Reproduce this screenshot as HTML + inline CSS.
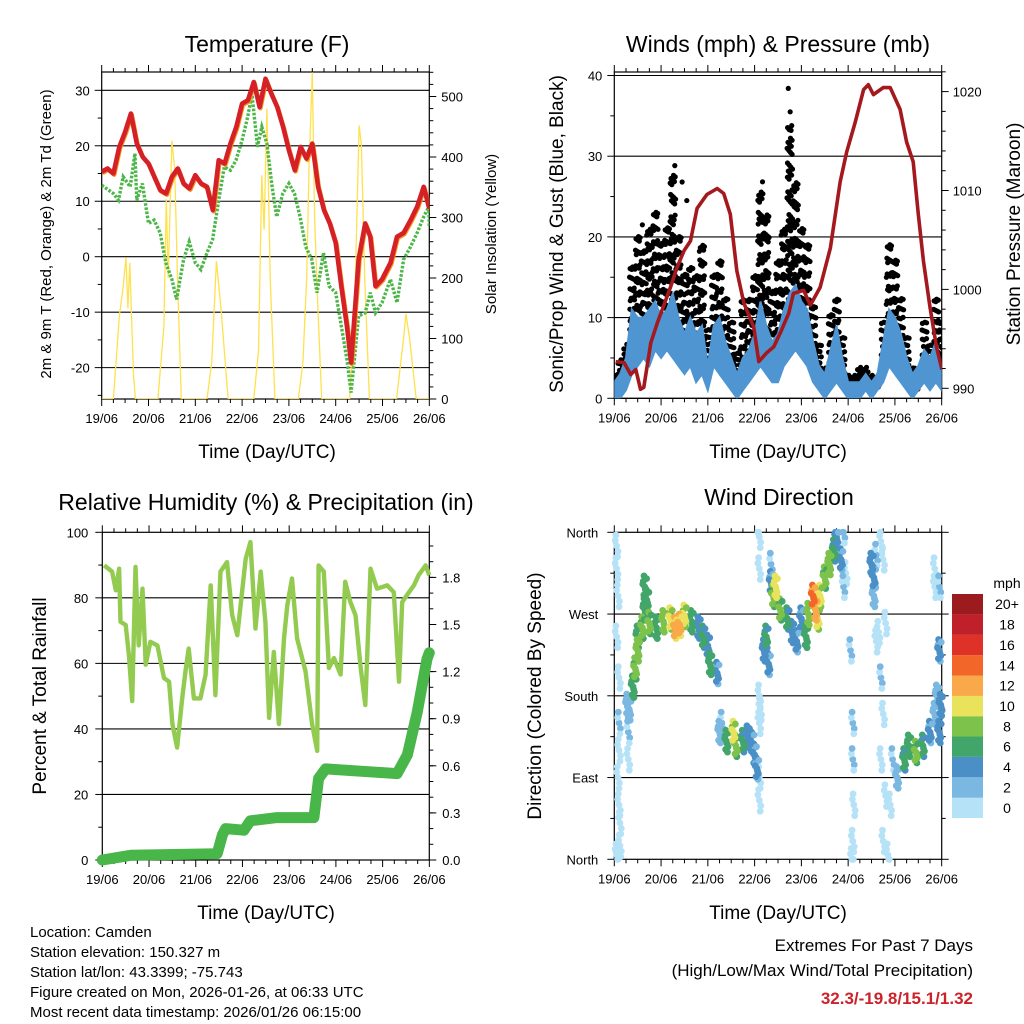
<!DOCTYPE html>
<html><head><meta charset="utf-8"><style>
html,body{margin:0;padding:0;background:#fff}
svg{display:block;font-family:"Liberation Sans",Arial,sans-serif}
</style></head><body>
<svg id="fig" width="1024" height="1024" viewBox="0 0 1024 1024" xmlns="http://www.w3.org/2000/svg">
<g id="texts" fill="#000">
<text x="267" y="52" font-size="23" text-anchor="middle">Temperature (F)</text>
<text x="778" y="52" font-size="23" text-anchor="middle">Winds (mph) &amp; Pressure (mb)</text>
<text x="266" y="510" font-size="23" text-anchor="middle">Relative Humidity (%) &amp; Precipitation (in)</text>
<text x="779" y="505" font-size="23" text-anchor="middle">Wind Direction</text>
<text x="267" y="458" font-size="19" text-anchor="middle">Time (Day/UTC)</text>
<text x="778" y="458" font-size="19" text-anchor="middle">Time (Day/UTC)</text>
<text x="266" y="919" font-size="19" text-anchor="middle">Time (Day/UTC)</text>
<text x="778" y="919" font-size="19" text-anchor="middle">Time (Day/UTC)</text>
<text transform="translate(51,234) rotate(-90)" font-size="15" text-anchor="middle">2m &amp; 9m T (Red, Orange) &amp; 2m Td (Green)</text>
<text transform="translate(496,234) rotate(-90)" font-size="15" text-anchor="middle">Solar Insolation (Yellow)</text>
<text transform="translate(563,234) rotate(-90)" font-size="19" text-anchor="middle">Sonic/Prop Wind &amp; Gust (Blue, Black)</text>
<text transform="translate(1020,234) rotate(-90)" font-size="19" text-anchor="middle">Station Pressure (Maroon)</text>
<text transform="translate(46,696) rotate(-90)" font-size="19" text-anchor="middle">Percent &amp; Total Rainfall</text>
<text transform="translate(541,696) rotate(-90)" font-size="19" text-anchor="middle">Direction (Colored By Speed)</text>
<g font-size="15">
<text x="30" y="937">Location: Camden</text>
<text x="30" y="957">Station elevation: 150.327 m</text>
<text x="30" y="977">Station lat/lon: 43.3399; -75.743</text>
<text x="30" y="997">Figure created on Mon, 2026-01-26, at 06:33 UTC</text>
<text x="30" y="1017">Most recent data timestamp: 2026/01/26 06:15:00</text>
</g>
<g font-size="17" text-anchor="end">
<text x="973" y="951">Extremes For Past 7 Days</text>
<text x="973" y="976">(High/Low/Max Wind/Total Precipitation)</text>
<text x="973" y="1004" fill="#cc2229" font-weight="bold">32.3/-19.8/15.1/1.32</text>
</g>
</g>
</svg>
<script>
// ---------- data ----------
const dayLabels=["19/06","20/06","21/06","22/06","23/06","24/06","25/06","26/06"];
const tempTicks=[30,20,10,0,-10,-20];
const solarTicks=[0,100,200,300,400,500];
const windTicks=[0,10,20,30,40];
const presTicks=[990,1000,1010,1020];
const rhTicks=[0,20,40,60,80,100];
const rainTicks=["0.0","0.3","0.6","0.9","1.2","1.5","1.8"];
const dirTicks=["North","East","South","West","North"];
const speedLabels=["0","2","4","6","8","10","12","14","16","18","20+"];
const speedColors=["#b5e2f7","#7ab8e2","#4a8fc6","#42a56a","#7dc24a","#e8e35a","#f9a84a","#f26629","#de3128","#c0202a","#9b1b1e"];

const tempT=[0,0.125,0.25,0.375,0.5,0.625,0.75,0.875,1,1.125,1.25,1.375,1.5,1.625,1.75,1.875,2,2.125,2.25,2.375,2.5,2.625,2.75,2.875,3,3.125,3.25,3.375,3.5,3.625,3.75,3.875,4,4.125,4.25,4.375,4.5,4.625,4.75,4.875,5,5.12,5.24,5.33,5.49,5.63,5.74,5.85,5.99,6.17,6.31,6.45,6.6,6.74,6.88,6.99,7.0];
const tempV=[15.3,15.9,15.0,19.8,22.5,25.8,20.4,18.0,16.8,14.4,12.0,11.4,14.4,15.9,13.2,12.3,14.7,13.2,12.6,8.4,17.4,16.8,20.4,23.4,27.6,28.2,31.5,27.0,32.1,29.4,27.0,23.4,19.2,15.6,19.8,17.7,20.4,12.6,8.4,6.0,2.5,-5.3,-12.5,-19.1,-0.5,6.0,3.6,-5.3,-4.1,-1.1,3.6,4.3,6.6,9.0,12.6,9.0,9.3];
const dewT=[0,0.25,0.36,0.46,0.61,0.71,0.75,0.87,1,1.12,1.25,1.37,1.5,1.6,1.75,1.87,2,2.12,2.25,2.37,2.5,2.62,2.75,2.87,3,3.12,3.21,3.33,3.42,3.53,3.64,3.74,3.87,4,4.12,4.24,4.36,4.49,4.6,4.74,4.86,5,5.12,5.24,5.33,5.49,5.63,5.74,5.85,5.99,6.17,6.31,6.45,6.6,6.74,6.88,6.99,7.0];
const dewV=[12.9,11.4,10.2,14.4,12.6,18.6,10.2,13.2,6.0,6.6,4.3,-1.1,-4.1,-7.7,-0.5,2.7,-1.1,-2.3,0.7,3.1,10.2,16.2,15.6,17.4,21.0,25.2,29.4,19.8,23.4,20.4,12.6,7.2,11.4,13.2,11.4,7.2,1.8,-0.5,-6.5,0.7,-5.3,-6.5,-12.5,-18.5,-24.5,-10.7,-10.1,-6.5,-10.1,-8.3,-4.1,-8.3,-0.5,1.8,4.3,7.2,9.0,5.4];
const solarT=[0,0.25,0.38,0.45,0.52,0.56,0.6,0.68,0.72,1.2,1.33,1.38,1.42,1.5,1.56,1.62,1.7,2.25,2.35,2.45,2.55,2.7,3.25,3.35,3.42,3.47,3.53,3.6,3.7,4.2,4.3,4.38,4.43,4.5,4.55,4.62,4.7,5.3,5.42,5.5,5.55,5.62,5.72,6.3,6.45,6.5,6.58,6.72,7];
const solarV=[0,0,140,180,234,150,225,40,0,0,120,330,200,427,380,200,0,0,60,228,150,0,0,80,370,280,480,200,0,0,60,200,380,540,300,150,0,0,200,452,420,200,0,0,100,141,100,0,0];

const presT=[0.03,0.21,0.35,0.46,0.56,0.63,0.78,0.92,1.02,1.2,1.34,1.49,1.63,1.77,1.98,2.2,2.34,2.48,2.62,2.77,2.98,3.09,3.26,3.41,3.55,3.73,3.83,4.05,4.19,4.4,4.62,4.83,4.97,5.15,5.33,5.43,5.54,5.75,5.9,6.11,6.25,6.39,6.5,6.61,6.75,6.89,6.99,7.0];
const presV=[992.7,992.6,991.4,991.9,989.9,990.1,994.6,996.6,997.9,1000.2,1002.2,1003.9,1004.9,1008.2,1009.6,1010.2,1009.7,1007.6,1001.9,998.6,996.2,992.7,993.6,994.2,995.6,997.6,999.6,999.9,998.4,1000.2,1004.2,1010.9,1013.9,1016.9,1020.2,1020.7,1019.7,1020.4,1020.4,1018.2,1014.9,1012.9,1007.6,1002.9,998.2,994.2,992.2,991.9];
const windT=[0,0.125,0.25,0.375,0.5,0.625,0.75,0.875,1,1.125,1.25,1.375,1.5,1.625,1.75,1.875,2,2.125,2.25,2.375,2.5,2.625,2.75,2.875,3,3.125,3.25,3.375,3.5,3.625,3.75,3.875,4,4.125,4.25,4.375,4.5,4.625,4.75,4.875,5,5.125,5.25,5.375,5.5,5.625,5.75,5.875,6,6.125,6.25,6.375,6.5,6.625,6.75,6.875,7];
const windLo=[0,0,1,3,4,5,4,6,5,6,5,4,3,4,2,3,1,4,3,2,1,0,1,2,3,4,3,2,2,4,5,6,5,4,2,1,0,1,2,1,0,0,0,1,0,1,2,4,3,2,1,0,1,2,1,2,1];
const windHi=[2,3,5,11,10,10,11,12,10,11,13,10,8,10,8,9,4,9,10,7,5,3,5,6,8,12,9,7,8,11,13,14,12,11,7,4,3,6,9,5,2,2,2,3,2,3,7,11,10,8,5,3,4,6,5,7,4];
const gustLo=[1,2,3,8,9,10,9,12,10,11,12,9,8,7,6,7,3,7,6,5,3,1,3,4,6,9,8,5,6,9,12,12,10,8,4,2,1,3,4,2,1,1,2,2,1,1,3,8,7,5,2,1,1,3,2,4,3];
const gustHi=[3,5,7,17,21,19,22,24,20,22,29,21,16,17,16,20,9,16,18,13,10,6,13,13,16,27,24,14,18,22,34,28,22,20,12,7,4,11,13,8,3,3,4,4,3,3,10,20,18,13,8,4,4,10,7,13,10];
const gustOutT=[3.72,3.76,3.78,1.45,1.55,0.6];
const gustOutV=[38.4,35.5,33.2,26.8,24.5,21.5];

const rhT=[0.04,0.21,0.29,0.36,0.39,0.5,0.57,0.64,0.71,0.78,0.86,0.93,1.03,1.18,1.32,1.43,1.5,1.6,1.71,1.78,1.85,1.96,2.1,2.21,2.32,2.42,2.53,2.67,2.78,2.89,3.07,3.17,3.28,3.39,3.49,3.57,3.67,3.78,3.89,3.96,4.06,4.17,4.35,4.49,4.6,4.63,4.74,4.85,4.96,5.1,5.2,5.31,5.42,5.53,5.63,5.74,5.88,6.1,6.24,6.35,6.42,6.52,6.67,6.77,6.92,7.0];
const rhV=[89.9,88.0,82.3,88.9,72.7,71.7,62.6,48.5,89.4,65.5,82.8,59.6,66.6,65.5,55.5,54.4,41.5,34.3,49.3,57.6,64.5,49.3,49.3,56.6,83.8,50.3,88.0,90.9,74.7,68.6,91.9,97.0,70.6,88.0,72.7,43.4,63.5,41.5,67.6,77.7,85.9,67.6,57.6,41.5,33.3,89.9,88.0,58.6,61.6,56.6,84.9,78.7,74.7,58.6,47.3,88.9,82.8,83.8,81.7,54.4,78.7,80.8,83.8,86.9,89.9,86.9];
const rainT=[0,0.61,2.46,2.57,2.64,3.03,3.17,3.74,4.53,4.63,4.78,6.31,6.53,6.74,6.95,7.0];
const rainV=[0,0.03,0.04,0.16,0.2,0.19,0.25,0.27,0.27,0.52,0.58,0.55,0.67,0.94,1.28,1.32];

const dirT=[0.05,0.05,0.08,0.05,0.1,0.1,0.1,0.08,0.1,0.12,0.12,0.05,0.32,0.3,0.3,0.28,0.4,0.45,0.5,0.5,0.6,0.65,0.7,0.65,0.75,0.9,1.05,1.2,1.3,1.4,1.5,1.65,1.8,1.9,2.0,2.05,2.2,2.25,2.4,2.55,2.6,2.75,2.85,2.95,3.0,3.05,2.3,3.1,3.1,3.1,3.1,3.1,3.1,3.12,3.2,3.25,3.3,3.35,3.35,3.4,3.45,3.55,3.7,3.8,3.9,4.0,4.1,4.15,4.25,4.3,4.35,4.4,4.5,4.6,4.7,4.75,4.85,4.9,4.9,4.95,5.05,5.1,5.1,5.12,5.1,5.08,5.5,5.55,5.55,5.6,5.7,5.75,5.8,5.7,5.75,5.7,5.8,5.75,5.85,5.95,6.05,6.2,6.3,6.45,6.6,6.75,6.85,6.9,6.95,6.85,5.65,5.6,6.85,5.9,6.95,6.95,6.98];
const dirV=[345,320,290,245,200,150,120,90,60,40,15,5,165,140,110,170,190,210,230,245,255,275,285,300,260,255,262,265,255,258,268,262,255,245,235,215,205,140,130,140,125,130,135,128,115,100,150,355,320,180,150,90,65,165,230,245,215,325,305,290,300,275,265,250,240,265,245,270,290,275,265,290,310,325,340,355,330,300,360,315,230,150,110,60,20,0,325,310,290,335,350,330,260,200,160,110,70,20,5,110,90,110,125,118,125,140,160,180,140,320,250,240,300,60,300,230,170];
const dirS=[1,1,1,1,1,2,1,1,1,1,1,1,3,2,1,3,7,8,9,7,8,7,7,7,8,7,9,10,12,12,10,7,5,6,5,7,4,3,7,10,8,6,5,4,4,4,2,1,1,1,1,1,1,1,5,6,4,2,4,8,11,8,6,5,4,4,7,9,14,13,10,10,8,9,6,4,4,2,2,1,2,2,2,1,1,1,5,4,3,2,1,1,1,2,1,1,1,1,1,2,3,6,7,8,6,4,3,3,5,1,1,1,1,1,2,4,5];

// ---------- helpers ----------
const NS="http://www.w3.org/2000/svg";
const svg=document.getElementById('fig');
function el(tag,parent){const e=document.createElementNS(NS,tag);(parent||svg).appendChild(e);return e;}
function line(g,x1,y1,x2,y2,st,w){const l=el('line',g);l.setAttribute('x1',x1);l.setAttribute('y1',y1);l.setAttribute('x2',x2);l.setAttribute('y2',y2);l.setAttribute('stroke',st||'#000');l.setAttribute('stroke-width',w||1);return l;}
function txt(g,x,y,s,anchor,size){const t=el('text',g);t.setAttribute('x',x);t.setAttribute('y',y);t.setAttribute('font-size',size||13);t.setAttribute('text-anchor',anchor||'start');t.textContent=s;return t;}
function pathD(ts,vs,fx,fy){let d='';const n=Math.min(ts.length,vs.length);for(let i=0;i<n;i++)d+=(i?'L':'M')+fx(ts[i]).toFixed(1)+','+fy(vs[i]).toFixed(1);return d;}

function frame(name,L,T,R,B,xs){
  const g=el('g');
  
  
  const r=el('rect',g);r.setAttribute('x',L);r.setAttribute('y',T);r.setAttribute('width',R-L);r.setAttribute('height',B-T);r.setAttribute('fill','none');r.setAttribute('stroke','#000');r.setAttribute('stroke-width',1.2);
  for(let d=0;d<dayLabels.length;d++){
    const x=xs(d);
    line(g,x,B,x,B+7);line(g,x,T,x,T-7);
    const t=txt(g,x,B+24,dayLabels[d],'middle',13);
    
    
    if(d<7){for(let m=1;m<4;m++){const xm=xs(d+m/4);line(g,xm,B,xm,B+4);line(g,xm,T,xm,T-4);}}
  }
  return g;
}

// ---------- Panel 1: Temperature ----------
(function(){
  const L=101.7,R=429.3,T=72,B=399;
  const xs=t=>L+t*46.8, ys=v=>256.7-v*5.546, ss=v=>B-v*0.605;
  const g=frame('temperature',L,T,R,B,xs);
  tempTicks.forEach(v=>{const y=ys(v);line(g,L,y,R,y,'#000',1.1);line(g,L,y,L-7,y);const t=txt(g,L-12,y+5,String(v),'end',13);});
  for(let v=-25;v<=33;v+=5){if(v%10)line(g,L,ys(v),L-4,ys(v));}
  solarTicks.forEach(v=>{const y=ss(v);line(g,R,y,R+7,y);const t=txt(g,R+12,y+5,String(v),'start',13);});
  for(let v=20;v<=540;v+=20){if(v%100)line(g,R,ss(v),R+4,ss(v));}
  const cg=el('g');cg.setAttribute('clip-path','url(#c1)');
  const cp=el('clipPath');cp.id='c1';const cr=el('rect',cp);cr.setAttribute('x',L);cr.setAttribute('y',T);cr.setAttribute('width',R-L);cr.setAttribute('height',B-T);
  const sp=el('path',cg);sp.setAttribute('d',pathD(solarT,solarV,xs,ss));sp.setAttribute('fill','none');sp.setAttribute('stroke','#ffe14d');sp.setAttribute('stroke-width',1.3);
  
  
  const dp=el('path',cg);dp.setAttribute('d',pathD(dewT,dewV,xs,ys));dp.setAttribute('fill','none');dp.setAttribute('stroke','#4cb648');dp.setAttribute('stroke-width',3.4);dp.setAttribute('stroke-dasharray','2.6,1.6');
  
  
  const op=el('path',cg);op.setAttribute('d',pathD(tempT,tempV,t=>xs(t)+0.8,v=>ys(v)+1.2));op.setAttribute('fill','none');op.setAttribute('stroke','#f7941d');op.setAttribute('stroke-width',4.5);op.setAttribute('stroke-linejoin','round');
  
  
  const tp=el('path',cg);tp.setAttribute('d',pathD(tempT,tempV,xs,ys));tp.setAttribute('fill','none');tp.setAttribute('stroke','#d42026');tp.setAttribute('stroke-width',4.6);tp.setAttribute('stroke-linejoin','round');
  
  
})();

// ---------- Panel 2: Winds ----------
(function(){
  const L=614.3,R=941.7,T=72,B=398.3;
  const xs=t=>L+t*46.77, ys=v=>B-v*8.07, ps=p=>388.3-(p-990)*9.89;
  const g=frame('winds',L,T,R,B,xs);
  windTicks.forEach(v=>{const y=ys(v);line(g,L,y,R,y,'#000',1.1);line(g,L,y,L-7,y);const t=txt(g,L-12,y+5,String(v),'end',13);});
  for(let v=5;v<=40;v+=10)line(g,L,ys(v),L-4,ys(v));
  presTicks.forEach(v=>{const y=ps(v);line(g,R,y,R+7,y);const t=txt(g,R+11,y+5,String(v),'start',13);});
  for(let v=990;v<=1022;v+=2){if(v%10)line(g,R,ps(v),R+4,ps(v));}
  const cp=el('clipPath');cp.id='c2';const cr=el('rect',cp);cr.setAttribute('x',L);cr.setAttribute('y',T);cr.setAttribute('width',R-L);cr.setAttribute('height',B-T);
  const cg=el('g');cg.setAttribute('clip-path','url(#c2)');
  const dg=el('g',cg);
  
  
  for(let k=0;k<windT.length;k++){
    const lo=gustLo[k],hi=gustHi[k];const n=Math.round((hi-lo)*2.6)+5;
    for(let j=0;j<n;j++){
      const f=(j*0.5698+0.21)%1;const g2=(j*0.7549+0.37)%1;const tt=windT[k]+(g2-0.5)*0.125;
      const c=el('circle',dg);c.setAttribute('cx',xs(Math.max(0,Math.min(7,tt))).toFixed(1));c.setAttribute('cy',ys(lo+(hi-lo)*f).toFixed(1));c.setAttribute('r',2.6);c.setAttribute('fill','#000');
    }
  }
  for(let i=0;i<gustOutT.length;i++){const c=el('circle',dg);c.setAttribute('cx',xs(gustOutT[i]));c.setAttribute('cy',ys(gustOutV[i]));c.setAttribute('r',2.6);c.setAttribute('fill','#000');}
  let d='';for(let k=0;k<windT.length;k++)d+=(k?'L':'M')+xs(windT[k]).toFixed(1)+','+ys(windHi[k]).toFixed(1);
  for(let k=windT.length-1;k>=0;k--)d+='L'+xs(windT[k]).toFixed(1)+','+ys(windLo[k]).toFixed(1);
  const band=el('path',cg);band.setAttribute('d',d+'Z');band.setAttribute('fill','#4f95d2');band.setAttribute('stroke','#4f95d2');band.setAttribute('stroke-width',2);
  
  
  const pp=el('path',cg);pp.setAttribute('d',pathD(presT,presV,xs,ps));pp.setAttribute('fill','none');pp.setAttribute('stroke','#a3191e');pp.setAttribute('stroke-width',3.6);pp.setAttribute('stroke-linejoin','round');
  
  
})();

// ---------- Panel 3: RH & Rain ----------
(function(){
  const L=102.3,R=429.3,T=532.3,B=860;
  const xs=t=>L+t*46.72, ys=v=>B-v*3.277, rs=v=>B-v*157;
  const g=frame('humidity',L,T,R,B,xs);
  rhTicks.forEach(v=>{const y=ys(v);if(v>0&&v<100)line(g,L,y,R,y,'#000',1.1);line(g,L,y,L-7,y);const t=txt(g,L-14,y+5,String(v),'end',13);});
  for(let v=10;v<100;v+=20)line(g,L,ys(v),L-4,ys(v));
  rainTicks.forEach(s=>{const y=rs(parseFloat(s));line(g,R,y,R+7,y);const t=txt(g,R+13,y+5,s,'start',13);});
  for(let v=0.1;v<2.1;v+=0.1){line(g,R,rs(v),R+4,rs(v));}
  const rp=el('path');rp.setAttribute('d',pathD(rhT,rhV,xs,ys));rp.setAttribute('fill','none');rp.setAttribute('stroke','#92cb50');rp.setAttribute('stroke-width',4.4);rp.setAttribute('stroke-linejoin','round');
  
  
  const pp=el('path');pp.setAttribute('d',pathD(rainT,rainV,xs,rs));pp.setAttribute('fill','none');pp.setAttribute('stroke','#48b648');pp.setAttribute('stroke-width',11);pp.setAttribute('stroke-linejoin','round');pp.setAttribute('stroke-linecap','round');
  
  
})();

// ---------- Panel 4: Wind direction ----------
(function(){
  const L=614.3,R=941.7,T=532.3,B=859.3;
  const xs=t=>L+t*46.77, ys=v=>B-v*(B-T)/360;
  const g=frame('direction',L,T,R,B,xs);
  dirTicks.forEach((s,i)=>{const y=ys(i*90);if(i>0&&i<4)line(g,L,y,R,y,'#000',1.1);line(g,L,y,L-7,y);const t=txt(g,L-16,y+5,s,'end',13);});
  for(let v=45;v<360;v+=90)line(g,L,ys(v),L-4,ys(v));
  for(let v=0;v<=360;v+=45)line(g,R,ys(v),R+(v%90?4:7),ys(v));
  const cp=el('clipPath');cp.id='c4';const cr=el('rect',cp);cr.setAttribute('x',L-4);cr.setAttribute('y',T-4);cr.setAttribute('width',R-L+8);cr.setAttribute('height',B-T+8);
  const dg=el('g');dg.setAttribute('clip-path','url(#c4)');
  
  
  const jt=[0,-0.03,0.03,-0.015,0.02,-0.04,0.012,0.04,-0.02];const jd=[0,6,-6,12,-12,3,-3,9,-9];
  const order=dirS.map((s,i)=>i).sort((a,b)=>dirS[a]-dirS[b]);
  order.forEach(i=>{
    const n=dirS[i]>=3?9:5;
    for(let j=0;j<n;j++){
      const c=el('circle',dg);
      const s=Math.max(0,dirS[i]-(j%3===1?1:0));
      const ci=Math.min(10,Math.floor(s/2));
      c.setAttribute('cx',xs(dirT[i]+jt[j]).toFixed(1));c.setAttribute('cy',ys(Math.max(0,Math.min(360,dirV[i]+jd[j]))).toFixed(1));c.setAttribute('r',3.4);c.setAttribute('fill',speedColors[ci]);
    }
  });
  const lg=el('g');
  
  
  const h=(818-594)/11;
  for(let i=0;i<11;i++){
    const r=el('rect',lg);r.setAttribute('x',952);r.setAttribute('y',(818-(i+1)*h).toFixed(1));r.setAttribute('width',31);r.setAttribute('height',h.toFixed(1));r.setAttribute('fill',speedColors[i]);
    const t=txt(lg,1007,818-(i+0.5)*h+5,speedLabels[i],'middle',14);
    
    
  }
  const u=txt(lg,1007,588,'mph','middle',14);
  
  
})();
</script>
</body></html>
